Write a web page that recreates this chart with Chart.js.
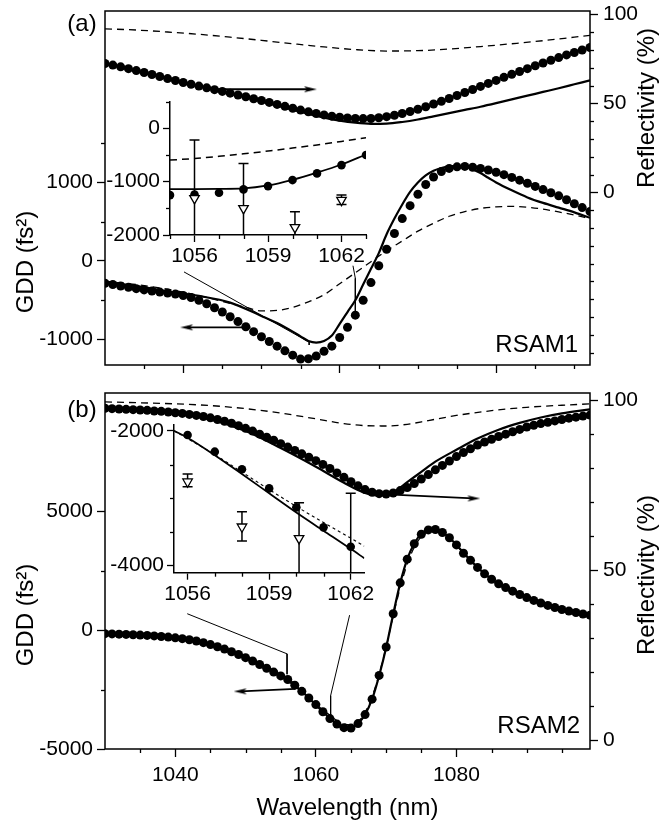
<!DOCTYPE html>
<html><head><meta charset="utf-8">
<script src="https://cdn.jsdelivr.net/npm/chart.js@4.4.1/dist/chart.umd.min.js"></script>
<style>
html,body{margin:0;padding:0;background:#fff;}
#wrap{position:relative;width:662px;height:825px;overflow:hidden;background:#fff;}
canvas{position:absolute;}
</style></head><body><div id="wrap">
<canvas id="cTop" width="662" height="380" style="left:0;top:0;width:662px;height:380px"></canvas>
<canvas id="cBot" width="662" height="445" style="left:0;top:380px;width:662px;height:445px"></canvas>
<canvas id="cInA" width="300" height="190" style="left:100px;top:90px;width:300px;height:190px"></canvas>
<canvas id="cInB" width="300" height="200" style="left:100px;top:410px;width:300px;height:200px"></canvas>
</div>
<script>
// ================= DATA =================
// ---- Panel (a) RSAM1 ----
const lamA = [1030,1031,1032,1033,1034,1035,1036,1037,1038,1039,1040,1041,1042,1043,1044,1045,1046,1047,1048,1049,1050,1051,1052,1053,1054,1055,1056,1057,1058,1059,1060,1061,1062,1063,1064,1065,1066,1067,1068,1069,1070,1071,1072,1073,1074,1075,1076,1077,1078,1079,1080,1081,1082,1083,1084,1085,1086,1087,1088,1089,1090,1091,1092];
const reflDotsA = [72.5,71.6,70.6,69.6,68.5,67.4,66.3,65.2,64.0,62.9,61.8,60.8,59.8,58.8,57.8,56.8,55.8,54.8,53.8,52.7,51.7,50.6,49.5,48.4,47.3,46.3,45.3,44.4,43.6,42.9,42.3,41.9,41.6,41.5,41.6,42.0,42.6,43.4,44.4,45.5,46.8,48.2,49.7,51.2,52.8,54.5,56.2,57.9,59.6,61.3,63.0,64.7,66.4,68.0,69.6,71.2,72.8,74.3,75.8,77.3,78.7,80.1,81.5];
const gddDotsA = [-284,-300,-318,-336,-352,-368,-382,-396,-408,-422,-440,-465,-500,-545,-595,-650,-710,-772,-838,-900,-965,-1025,-1085,-1145,-1200,-1250,-1245,-1210,-1150,-1085,-975,-845,-690,-500,-275,-60,150,350,540,705,850,975,1070,1140,1180,1200,1205,1195,1180,1160,1130,1100,1065,1030,990,950,910,870,830,780,730,680,630];
const reflSolidLamA = [1030,1034,1038,1042,1046,1050,1054,1056,1058,1060,1062,1064,1066,1068,1070,1072,1074,1076,1078,1080,1082,1084,1086,1088,1090,1092];
const reflSolidA = [72.3,68.3,63.8,59.6,55.5,51.2,46.5,44.2,42.1,40.4,39.2,38.6,38.7,39.6,41.0,42.8,44.6,46.4,48.2,50.2,52.3,54.4,56.5,58.6,60.8,63.0];
const reflDashLamA = [1030,1034,1038,1042,1046,1050,1054,1058,1062,1066,1070,1074,1078,1082,1086,1090,1092];
const reflDashA = [92.0,91.3,90.2,88.9,87.3,85.5,83.6,81.8,80.3,79.5,79.7,80.6,82.0,83.6,85.3,87.3,88.3];
const gddSolidLamA = [1030,1034,1038,1042,1046,1050,1052,1054,1055,1056,1057,1058,1059,1060,1061,1062,1063,1064,1065,1066,1067,1068,1069,1070,1071,1072,1073,1074,1075,1076,1077,1078,1079,1080,1082,1084,1086,1088,1090,1092];
const gddSolidA = [-263,-320,-385,-445,-530,-700,-790,-900,-960,-1020,-1040,-1020,-950,-800,-650,-500,-300,-100,100,340,540,720,880,1000,1090,1150,1185,1205,1212,1205,1170,1120,1060,1000,900,810,740,680,620,550];
const gddDashLamA = [1030,1034,1038,1042,1046,1048,1050,1052,1054,1056,1058,1060,1062,1064,1066,1068,1070,1072,1074,1076,1078,1080,1082,1084,1086,1088,1090,1092];
const gddDashA = [-263,-300,-360,-440,-540,-590,-635,-630,-590,-520,-430,-290,-150,-10,130,255,380,480,570,630,670,690,695,685,660,625,585,540];
const arrowReflLamA = [1044.3,1056.2];  const arrowReflA = [58,58];
const arrowGddLamA  = [1048.6,1040.5];  const arrowGddA  = [-846,-846];
const conn1LamA = [1040.1,1056.1,1056.1]; const conn1GddA = [-139,-1034,-1070];
const conn2LamA = [1061.7,1062.0,1062.0]; const conn2GddA = [-60,-220,-700];
// inset (a)
const insetLamA = [1055,1056,1057,1058,1059,1060,1061,1062,1063];
const insetDotsA = [-1252,-1240,-1208,-1145,-1083,-970,-845,-689,-501];
const insetSolidA = [-1140,-1138,-1134,-1125,-1070,-965,-830,-678,-490];
const insetDashA = [-595,-565,-525,-478,-425,-370,-310,-245,-176];
const insetTriLamA = [1056,1058,1060.1,1062];
const insetTriA = [-1313,-1501,-1857,-1345];
const insetTriHiA = [-219,-657,-1563,-1251];
const insetTriLoA = [-2400,-2350,-2150,-1430];

// ---- Panel (b) RSAM2 ----
const lamB = [1030,1031,1032,1033,1034,1035,1036,1037,1038,1039,1040,1041,1042,1043,1044,1045,1046,1047,1048,1049,1050,1051,1052,1053,1054,1055,1056,1057,1058,1059,1060,1061,1062,1063,1064,1065,1066,1067,1068,1069,1070,1071,1072,1073,1074,1075,1076,1077,1078,1079,1080,1081,1082,1083,1084,1085,1086,1087,1088,1089,1090,1091,1092,1093,1094,1095,1096,1097,1098,1099];
const reflDotsB = [97.7,97.6,97.5,97.4,97.3,97.2,97.1,96.9,96.8,96.6,96.4,96.2,95.9,95.6,95.3,94.9,94.4,93.9,93.3,92.6,91.8,91.0,90.1,89.2,88.3,87.3,86.3,85.3,84.3,83.3,82.3,81.2,80.0,78.7,77.4,76.1,74.9,73.8,73.0,72.6,72.5,72.8,73.5,74.4,75.6,76.9,78.2,79.6,80.9,82.2,83.5,84.7,85.8,86.9,87.8,88.6,89.4,90.1,90.8,91.5,92.2,92.7,93.2,93.6,94.0,94.4,94.8,95.1,95.4,95.7];
const gddDotsB = [-140,-150,-160,-172,-185,-200,-215,-235,-258,-284,-315,-350,-395,-450,-520,-600,-690,-790,-900,-1020,-1150,-1290,-1440,-1600,-1760,-1920,-2070,-2310,-2570,-2850,-3130,-3430,-3720,-3950,-4100,-4120,-3930,-3550,-2900,-1900,-700,700,2000,3000,3650,4050,4230,4250,4120,3900,3600,3250,2950,2650,2380,2150,1960,1800,1650,1510,1380,1260,1150,1050,960,880,810,750,690,640];
const reflSolidLamB = [1030,1040,1045,1050,1055,1060,1064,1067,1069,1071,1073,1075,1077,1080,1083,1086,1089,1092,1095,1099];
const reflSolidB = [97.6,96.1,94.4,91.0,86.0,80.5,75.8,72.8,72.0,73.0,76.0,79.0,82.0,85.5,88.8,91.4,93.4,95.0,96.2,97.4];
const reflDashLamB = [1030,1040,1045,1050,1055,1060,1064,1067,1070,1073,1076,1080,1085,1090,1095,1099];
const reflDashB = [99.6,99.0,98.5,97.6,96.3,94.6,93.2,92.6,92.5,93.0,94.1,95.6,97.0,98.0,98.6,99.0];
const gddSolidLamB = [1030,1035,1040,1044,1048,1052,1055,1058,1061,1063,1064,1065,1066,1067,1068,1069,1070,1071,1072,1073,1074,1075,1076,1077,1078,1079,1080,1082,1084,1086,1088,1090,1092,1095,1099];
const gddSolidB = [-140,-200,-315,-520,-900,-1440,-1920,-2570,-3430,-3950,-4090,-4100,-3920,-3540,-2900,-1910,-720,680,1990,3000,3660,4070,4250,4270,4130,3900,3600,2950,2380,1960,1650,1380,1150,880,640];
const gddDashLamB = [1030,1040,1048,1052,1056,1058,1060,1062,1063,1064,1065,1066,1067,1068,1069,1070,1071,1072,1073,1074,1075,1076,1077,1078,1079,1080,1082,1084,1086,1090,1095,1099];
const gddDashB = [-140,-310,-890,-1420,-2010,-2560,-3100,-3580,-3800,-3950,-3980,-3850,-3450,-2800,-1850,-700,600,1800,2800,3500,3950,4150,4180,4060,3850,3580,2950,2380,1960,1380,880,640];
const arrowReflLamB = [1070.9,1082.4]; const arrowReflB = [72.3,71.2];
const arrowGddLamB  = [1057.1,1049.3]; const arrowGddB  = [-2470,-2572];
const conn1LamB = [1041.7,1055.9,1055.9]; const conn1GddB = [700,-990,-1850];
const conn2LamB = [1064.8,1062.1,1062.1]; const conn2GddB = [640,-2750,-3670];
// inset (b)
const insetLamB = [1056,1057,1058,1059,1060,1061,1062];
const insetDotsB = [-2059,-2307,-2569,-2852,-3134,-3431,-3719];
const insetSolidLamB = [1055.5,1056,1057,1058,1059,1060,1061,1062,1062.5];
const insetSolidB = [-1996,-2100,-2360,-2640,-2925,-3210,-3480,-3750,-3890];
const insetDashLamB = [1055.5,1057,1058,1059,1060,1061,1062,1062.5];
const insetDashB = [-1996,-2350,-2610,-2870,-3120,-3360,-3590,-3710];
const insetTriLamB = [1056,1058,1060.1,1062];
const insetTriB = [-2753,-3422,-3594,-4480];
const insetTriHiB = [-2639,-3199,-3065,-2926];
const insetTriLoB = [-2827,-3634,-4130,-6034];

// ---- tick values ----
const xMajor = [1040,1060,1080];
const xMinorA = [1035,1045,1050,1055,1065,1070,1075,1085,1090];
const xMinorB = [1035,1045,1050,1055,1065,1070,1075,1085,1090,1095];
const gddMajorA = [-1000,0,1000];  const gddMinorA = [-500,500,1500];
const gddMajorB = [-5000,0,5000];  const gddMinorB = [-2500,2500];
const reflMajor = [0,50,100];
const reflMinorA = [-90,-80,-70,-60,-50,-40,-30,-20,-10,10,20,30,40,60,70,80,90];
const reflMinorB = [10,20,30,40,60,70,80,90];
const inXMajor = [1056,1059,1062];
const inXMinorA = [1055,1057,1058,1060,1061,1063];
const inXMinorB = [1057,1058,1060,1061];
const inYMajorA = [-2000,-1000,0]; const inYMinorA = [-1500,-500,500];
const inYMajorB = [-4000,-2000];   const inYMinorB = [-3500,-3000,-2500];

// ================= HELPERS =================
const FONT = "'Liberation Sans', Arial, Helvetica, sans-serif";
const pts = (xs, ys) => xs.map((x, i) => ({x: x, y: ys[i]}));

function arrowHead() {
  const c = document.createElement('canvas'); c.width = 14; c.height = 8;
  const g = c.getContext('2d'); g.fillStyle = '#000';
  g.beginPath(); g.moveTo(14, 4); g.lineTo(1, 1.0); g.lineTo(4, 4); g.lineTo(1, 7.0); g.closePath(); g.fill();
  return c;
}
const HEAD = arrowHead();

function dots(xs, ys, axis, r) {
  return {data: pts(xs, ys), yAxisID: axis, showLine: false, pointRadius: r || 4.5,
    pointBackgroundColor: '#000', pointBorderWidth: 0, pointHoverRadius: 0};
}
function curve(xs, ys, axis, w, dash) {
  return {data: pts(xs, ys), yAxisID: axis, borderColor: '#000', borderWidth: w,
    borderDash: dash || [], pointRadius: 0, fill: false, cubicInterpolationMode: 'monotone'};
}
function poly(xs, ys, axis, w) {
  return {data: pts(xs, ys), yAxisID: axis, borderColor: '#000', borderWidth: w, pointRadius: 0, fill: false, tension: 0};
}
function arrow(xs, ys, axis, rot) {
  return {data: pts(xs, ys), yAxisID: axis, borderColor: '#000', borderWidth: 1.8, fill: false, tension: 0,
    pointRadius: [0, 5], pointStyle: ['circle', HEAD], pointRotation: rot, pointBorderWidth: 0};
}
function tris(xs, ys, axis) {
  return {data: pts(xs, ys), yAxisID: axis, showLine: false, pointStyle: 'triangle', pointRotation: 180,
    pointRadius: 5.5, pointBackgroundColor: '#fff', pointBorderColor: '#000', pointBorderWidth: 1.3};
}

function axis(opts) {
  const o = {
    type: 'linear', position: opts.position, min: opts.min, max: opts.max,
    border: {display: !!opts.border, color: '#000', width: 1.5},
    grid: {drawOnChartArea: false, drawTicks: true, tickLength: opts.tickLength || 8, tickColor: '#000', tickWidth: 1.3},
    ticks: {color: '#000', font: {family: FONT, size: 21}, padding: opts.pad != null ? opts.pad : 4,
      autoSkip: false, maxRotation: 0, includeBounds: false,
      callback: opts.noLabels ? () => '' : (v) => String(v)},
    afterBuildTicks: (s) => { s.ticks = opts.major.map(v => ({value: v})); },
    afterFit: (s) => {
      if (opts.position === 'bottom') { s.height = opts.size; s.paddingLeft = 0; s.paddingRight = 0; }
      else { s.width = opts.size; s.paddingTop = 0; s.paddingBottom = 0; }
    }
  };
  if (opts.title) o.title = opts.title;
  return o;
}

function minorPlugin(spec, len) {
  return {id: 'minorTicks', afterDraw(chart) {
    const ctx = chart.ctx; ctx.save(); ctx.strokeStyle = '#000'; ctx.lineWidth = 1.3;
    for (const id in spec) {
      const sc = chart.scales[id];
      for (const v of spec[id]) {
        const p = Math.round(sc.getPixelForValue(v)) + 0.5;
        ctx.beginPath();
        if (sc.position === 'bottom') { ctx.moveTo(p, sc.top); ctx.lineTo(p, sc.top + len); }
        else if (sc.position === 'left') { ctx.moveTo(sc.right, p); ctx.lineTo(sc.right - len, p); }
        else { ctx.moveTo(sc.left, p); ctx.lineTo(sc.left + len, p); }
        ctx.stroke();
      }
    }
    ctx.restore();
  }};
}
const framePlugin = {id: 'frame', afterDatasetsDraw(chart) {
  const a = chart.chartArea, ctx = chart.ctx; ctx.save(); ctx.strokeStyle = '#000'; ctx.lineWidth = 1.5;
  ctx.strokeRect(a.left, a.top, a.right - a.left, a.bottom - a.top); ctx.restore();
}};
function textPlugin(items) {
  return {id: 'texts', afterDraw(chart) {
    const ctx = chart.ctx;
    for (const t of items) {
      ctx.save(); ctx.font = t.font || ('24px ' + FONT); ctx.fillStyle = '#000';
      ctx.textAlign = t.align || 'center'; ctx.textBaseline = t.baseline || 'middle';
      ctx.translate(t.x, t.y); if (t.rot) ctx.rotate(t.rot);
      ctx.fillText(t.text, 0, 0); ctx.restore();
    }
  }};
}
function errPlugin(xs, lo, hi, yId) {
  return {id: 'errbars', beforeDatasetsDraw(chart) {
    const x = chart.scales.x, y = chart.scales[yId], a = chart.chartArea, ctx = chart.ctx;
    ctx.save(); ctx.beginPath(); ctx.rect(a.left, a.top - 2, a.right - a.left, a.bottom - a.top + 2); ctx.clip();
    ctx.strokeStyle = '#000'; ctx.lineWidth = 1.5;
    xs.forEach((xv, i) => {
      const px = x.getPixelForValue(xv), p1 = y.getPixelForValue(hi[i]), p2 = y.getPixelForValue(lo[i]);
      ctx.beginPath(); ctx.moveTo(px, p1); ctx.lineTo(px, p2);
      ctx.moveTo(px - 5, p1); ctx.lineTo(px + 5, p1);
      ctx.moveTo(px - 5, p2); ctx.lineTo(px + 5, p2); ctx.stroke();
    });
    ctx.restore();
  }};
}
const baseOpts = (pad) => ({responsive: false, animation: false, events: [], layout: {padding: pad},
  plugins: {legend: {display: false}, tooltip: {enabled: false}}});

// ================= TOP PANEL =================
new Chart(document.getElementById('cTop'), {
  type: 'line',
  data: {datasets: [
    dots(lamA, gddDotsA, 'y'),
    dots(lamA, reflDotsA, 'yR'),
    arrow(arrowReflLamA, arrowReflA, 'yR', 0),
    arrow(arrowGddLamA, arrowGddA, 'y', 180),
    curve(gddSolidLamA, gddSolidA, 'y', 2.2),
    curve(reflSolidLamA, reflSolidA, 'yR', 2.2),
    curve(gddDashLamA, gddDashA, 'y', 1.3, [7, 5]),
    curve(reflDashLamA, reflDashA, 'yR', 1.3, [7, 5]),
    poly(conn1LamA, conn1GddA, 'y', 1),
    poly(conn2LamA, conn2GddA, 'y', 1)
  ]},
  options: Object.assign(baseOpts({top: 11, left: 0, right: 0, bottom: 0}), {scales: {
    x: axis({position: 'bottom', min: 1030, max: 1092, major: xMajor, noLabels: true, size: 15}),
    y: axis({position: 'left', min: -1325, max: 3185, major: gddMajorA, size: 105, pad: 4}),
    yR: axis({position: 'right', min: -97, max: 102, major: reflMajor, size: 72, pad: 5})
  }}),
  plugins: [framePlugin, minorPlugin({x: xMinorA, y: gddMinorA, yR: reflMinorA}, 4),
    textPlugin([
      {text: 'GDD (fs\u00B2)', x: 26, y: 262, rot: -Math.PI / 2},
      {text: 'Reflectivity (%)', x: 647, y: 108, rot: -Math.PI / 2},
      {text: '(a)', x: 82, y: 24},
      {text: 'RSAM1', x: 578, y: 352, align: 'right', baseline: 'alphabetic'}
    ])]
});

// ================= BOTTOM PANEL =================
new Chart(document.getElementById('cBot'), {
  type: 'line',
  data: {datasets: [
    dots(lamB, gddDotsB, 'y'),
    dots(lamB, reflDotsB, 'yR'),
    arrow(arrowReflLamB, arrowReflB, 'yR', 0),
    arrow(arrowGddLamB, arrowGddB, 'y', 180),
    curve(gddSolidLamB, gddSolidB, 'y', 2.2),
    curve(reflSolidLamB, reflSolidB, 'yR', 2.2),
    curve(gddDashLamB, gddDashB, 'y', 1.3, [7, 5]),
    curve(reflDashLamB, reflDashB, 'yR', 1.3, [7, 5]),
    poly(conn1LamB, conn1GddB, 'y', 1),
    poly(conn2LamB, conn2GddB, 'y', 1)
  ]},
  options: Object.assign(baseOpts({top: 13, left: 0, right: 0, bottom: 0}), {scales: {
    x: axis({position: 'bottom', min: 1030, max: 1099, major: xMajor, size: 76, pad: 6,
      title: {display: true, text: 'Wavelength (nm)', color: '#000', font: {family: FONT, size: 24}, padding: {top: 0, bottom: 2}}}),
    y: axis({position: 'left', min: -5000, max: 10000, major: gddMajorB, size: 105, pad: 4}),
    yR: axis({position: 'right', min: -2.5, max: 102.2, major: reflMajor, size: 72, pad: 5})
  }}),
  plugins: [framePlugin, minorPlugin({x: xMinorB, y: gddMinorB, yR: reflMinorB}, 4),
    textPlugin([
      {text: 'GDD (fs\u00B2)', x: 26, y: 235, rot: -Math.PI / 2},
      {text: 'Reflectivity (%)', x: 647, y: 195, rot: -Math.PI / 2},
      {text: '(b)', x: 82, y: 30},
      {text: 'RSAM2', x: 580, y: 353, align: 'right', baseline: 'alphabetic'}
    ])]
});

// ================= INSET (a) =================
new Chart(document.getElementById('cInA'), {
  type: 'line',
  data: {datasets: [
    tris(insetTriLamA, insetTriA, 'y'),
    dots(insetLamA, insetDotsA, 'y', 4.3),
    curve(insetLamA, insetSolidA, 'y', 1.8),
    curve(insetLamA, insetDashA, 'y', 1.5, [7, 5])
  ]},
  options: Object.assign(baseOpts({top: 11.7, left: 0, right: 34, bottom: 0}), {scales: {
    x: axis({position: 'bottom', min: 1055, max: 1063, major: inXMajor, size: 45, border: true, tickLength: 7, pad: 2}),
    y: axis({position: 'left', min: -2000, max: 500, major: inYMajorA, size: 70, border: true, tickLength: 7, pad: 3})
  }}),
  plugins: [errPlugin(insetTriLamA, insetTriLoA, insetTriHiA, 'y'),
    minorPlugin({x: inXMinorA, y: inYMinorA}, 4)]
});

// ================= INSET (b) =================
new Chart(document.getElementById('cInB'), {
  type: 'line',
  data: {datasets: [
    tris(insetTriLamB, insetTriB, 'y'),
    dots(insetLamB, insetDotsB, 'y', 4.3),
    curve(insetSolidLamB, insetSolidB, 'y', 1.8),
    curve(insetDashLamB, insetDashB, 'y', 1.1, [3, 3])
  ]},
  options: Object.assign(baseOpts({top: 15, left: 0, right: 35.7, bottom: 0}), {scales: {
    x: axis({position: 'bottom', min: 1055.5, max: 1062.5, major: inXMajor, size: 37.3, border: true, tickLength: 7, pad: 2}),
    y: axis({position: 'left', min: -4104, max: -1911, major: inYMajorB, size: 74, border: true, tickLength: 7, pad: 3})
  }}),
  plugins: [errPlugin(insetTriLamB, insetTriLoB, insetTriHiB, 'y'),
    minorPlugin({x: inXMinorB, y: inYMinorB}, 4)]
});
</script></body></html>
